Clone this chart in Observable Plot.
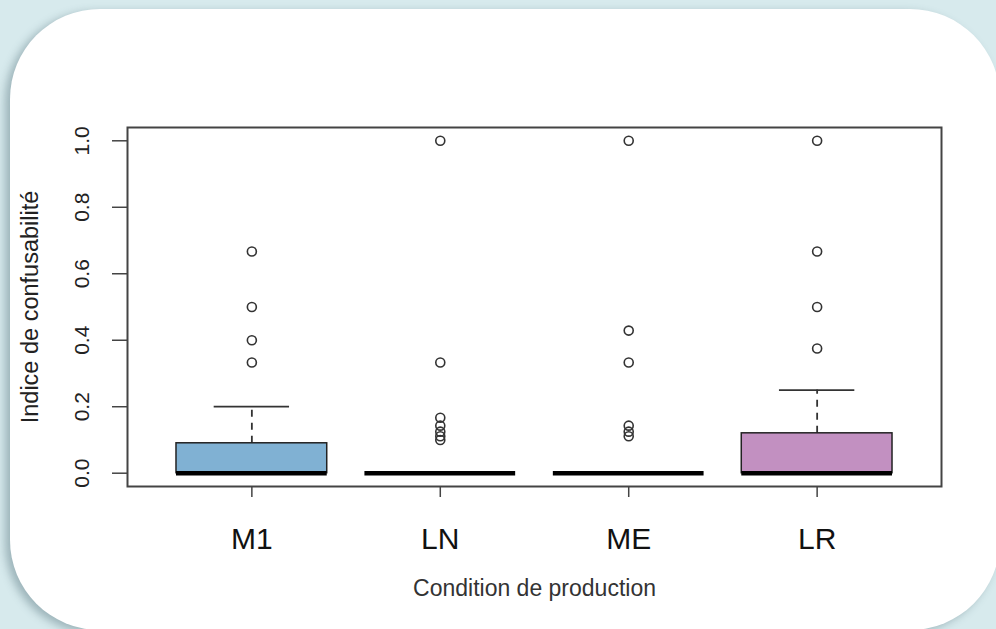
<!DOCTYPE html>
<html>
<head>
<meta charset="utf-8">
<script src="https://cdn.jsdelivr.net/npm/d3@7"></script>
<script src="https://cdn.jsdelivr.net/npm/@observablehq/plot@0.6"></script>
<style>
  html, body { margin: 0; padding: 0; }
  body { width: 996px; height: 629px; background: #d7eaed; position: relative; overflow: hidden; font-family: "Liberation Sans", Arial, sans-serif; }
  #card { position: absolute; left: 10px; top: 9px; width: 990px; height: 621px; background: #ffffff; border-radius: 90px; box-shadow: -5px 3px 8px rgba(70, 100, 110, 0.4); }
  #chart { position: absolute; left: 0; top: 0; }
</style>
</head>
<body>
<div id="card"></div>
<div id="chart"></div>
<script>
const categories = ["M1", "LN", "ME", "LR"];
const q1 = [0, 0, 0, 0];
const medians = [0, 0, 0, 0];
const q3 = [0.09, 0, 0, 0.12];
const whiskerHi = [0.2, 0, 0, 0.25];
const outliersM1 = [0.333, 0.4, 0.5, 0.667];
const outliersLN = [1, 0.333, 0.167, 0.143, 0.125, 0.111, 0.1];
const outliersME = [1, 0.429, 0.333, 0.143, 0.125, 0.111];
const outliersLR = [1, 0.667, 0.5, 0.375];
const boxColors = ["#80b1d3", "#ffffff", "#ffffff", "#c290c1"];
const yTicks = [0, 0.2, 0.4, 0.6, 0.8, 1.0];
const yLabel = "Indice de confusabilité";
const xLabel = "Condition de production";

const stats = categories.map((c, k) => ({
  i: k + 1, name: c, q1: q1[k], median: medians[k], q3: q3[k], hi: whiskerHi[k], color: boxColors[k]
}));
const outlierLists = [outliersM1, outliersLN, outliersME, outliersLR];
const outliers = outlierLists.flatMap((arr, k) => arr.map(v => ({ i: k + 1, v })));

const chart = Plot.plot({
  width: 996,
  height: 629,
  marginLeft: 127,
  marginRight: 55,
  marginTop: 127,
  marginBottom: 143,
  style: { background: "transparent", fontFamily: "'Liberation Sans', Arial, sans-serif", color: "#111" },
  x: { domain: [0.34, 4.66], label: null },
  y: { domain: [-0.04, 1.04], label: null },
  color: { type: "identity" },
  marks: [
    Plot.frame({ stroke: "#444", strokeWidth: 2 }),
    Plot.axisX({ ticks: [1, 2, 3, 4], tickFormat: d => categories[d - 1], tickSize: 11, tickPadding: 30, fontSize: 30, label: null, stroke: "#444", strokeWidth: 1.5 }),
    Plot.axisY({ ticks: yTicks, tickFormat: d3.format(".1f"), tickSize: 15, tickPadding: 24, tickRotate: -90, fontSize: 21, label: null, stroke: "#444", strokeWidth: 1.5, fill: "#222" }),
    Plot.ruleX(stats.filter(d => d.hi > d.q3), { x: "i", y1: "q3", y2: "hi", stroke: "#333", strokeWidth: 1.8, strokeDasharray: "7,6" }),
    Plot.ruleY(stats.filter(d => d.hi > d.q3), { x1: d => d.i - 0.2, x2: d => d.i + 0.2, y: "hi", stroke: "#333", strokeWidth: 1.8 }),
    Plot.rect(stats, { x1: d => d.i - 0.4, x2: d => d.i + 0.4, y1: "q1", y2: "q3", fill: "color", stroke: "#222", strokeWidth: 1.5 }),
    Plot.ruleY(stats, { x1: d => d.i - 0.4, x2: d => d.i + 0.4, y: "median", stroke: "#000", strokeWidth: 4.5 }),
    Plot.dot(outliers, { x: "i", y: "v", r: 4.5, stroke: "#333", fill: "none", strokeWidth: 1.6 }),
    Plot.text([yLabel], { text: d => d, frameAnchor: "left", textAnchor: "middle", dx: -97, rotate: -90, fontSize: 23.5, fill: "#222" }),
    Plot.text([xLabel], { text: d => d, frameAnchor: "bottom", textAnchor: "middle", dy: 109, fontSize: 23, fill: "#333" })
  ]
});
document.getElementById("chart").appendChild(chart);
</script>
</body>
</html>
